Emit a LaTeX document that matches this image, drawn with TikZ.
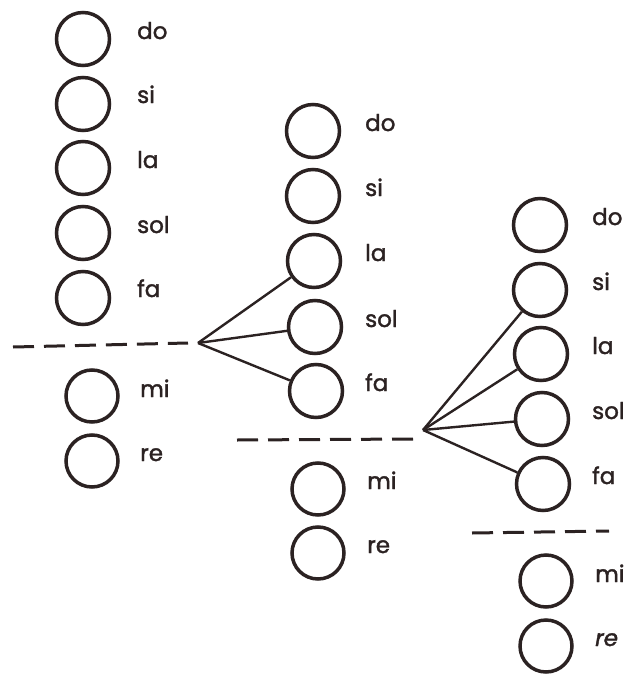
\documentclass[tikz,border=0pt]{standalone}
\usepackage{fontspec}
\setmainfont{Poppins}
\newfontfamily\lblfont{Poppins}[FakeBold=1.6]
\definecolor{ink}{HTML}{2B2222}
\begin{document}
\begin{tikzpicture}[x=1pt,y=-1pt,
  note/.style={circle,draw=ink,line width=3.5pt,minimum size=53pt,inner sep=0pt},
  lbl/.style={anchor=base west,inner sep=0pt,text=ink,font=\lblfont\fontsize{23}{23}\selectfont},
  sep/.style={draw=ink,line width=3pt,dash pattern=on 21pt off 10pt},
  fan/.style={draw=ink,line width=2.4pt}]
\useasboundingbox (0,0) rectangle (626,674);
% column 1
\node[note] (a1) at (83,39) {};
\node[note] (a2) at (83,104) {};
\node[note] (a3) at (83,168) {};
\node[note] (a4) at (83,233) {};
\node[note] (a5) at (83,298) {};
\node[note,minimum size=52pt] (a6) at (92,396) {};
\node[note,minimum size=52pt] (a7) at (92,461) {};
\node[lbl] (la1) at (137,39) {do};
\node[lbl] (la2) at (137,103) {si};
\node[lbl] (la3) at (137,168) {la};
\node[lbl] (la4) at (137,233) {sol};
\node[lbl] (la5) at (137,297) {fa};
\node[lbl] (la6) at (140,397) {mi};
\node[lbl] (la7) at (140,461) {re};
\coordinate (d1a) at (13,347);
\coordinate (d1b) at (188,343);
\draw[sep] (d1a) -- (d1b);
% column 2
\node[note] (b1) at (313,131) {};
\node[note] (b2) at (313,196) {};
\node[note] (b3) at (314,261) {};
\node[note] (b4) at (315,327) {};
\node[note] (b5) at (316,391) {};
\node[note,minimum size=52pt] (b6) at (318,489) {};
\node[note,minimum size=52pt] (b7) at (318,553) {};
\node[lbl] (lb1) at (365,131) {do};
\node[lbl] (lb2) at (365,196) {si};
\node[lbl] (lb3) at (365,261) {la};
\node[lbl] (lb4) at (365,327) {sol};
\node[lbl] (lb5) at (365,391) {fa};
\node[lbl] (lb6) at (367,489) {mi};
\node[lbl] (lb7) at (367,553) {re};
\coordinate (f1) at (198,343);
\draw[fan] (f1) -- (b3);
\draw[fan] (f1) -- (b4);
\draw[fan] (f1) -- (b5);
\coordinate (d2a) at (237,440);
\coordinate (d2b) at (414,439);
\draw[sep] (d2a) -- (d2b);
% column 3
\node[note] (c1) at (540,225) {};
\node[note] (c2) at (540,290) {};
\node[note] (c3) at (541,354) {};
\node[note] (c4) at (542,419) {};
\node[note] (c5) at (543,484) {};
\node[note,minimum size=52pt] (c6) at (546,581) {};
\node[note,minimum size=52pt] (c7) at (546,646) {};
\node[lbl] (lc1) at (592,225) {do};
\node[lbl] (lc2) at (592,290) {si};
\node[lbl] (lc3) at (592,354) {la};
\node[lbl] (lc4) at (592,419) {sol};
\node[lbl] (lc5) at (592,484) {fa};
\node[lbl] (lc6) at (595,582) {mi};
\node[lbl] (lc7) at (595,646) {\itshape re};
\coordinate (f2) at (423,430);
\draw[fan] (f2) -- (c2);
\draw[fan] (f2) -- (c3);
\draw[fan] (f2) -- (c4);
\draw[fan] (f2) -- (c5);
\coordinate (d3a) at (472,533);
\coordinate (d3b) at (609,531);
\draw[sep] (d3a) -- (d3b);
\end{tikzpicture}
\end{document}
